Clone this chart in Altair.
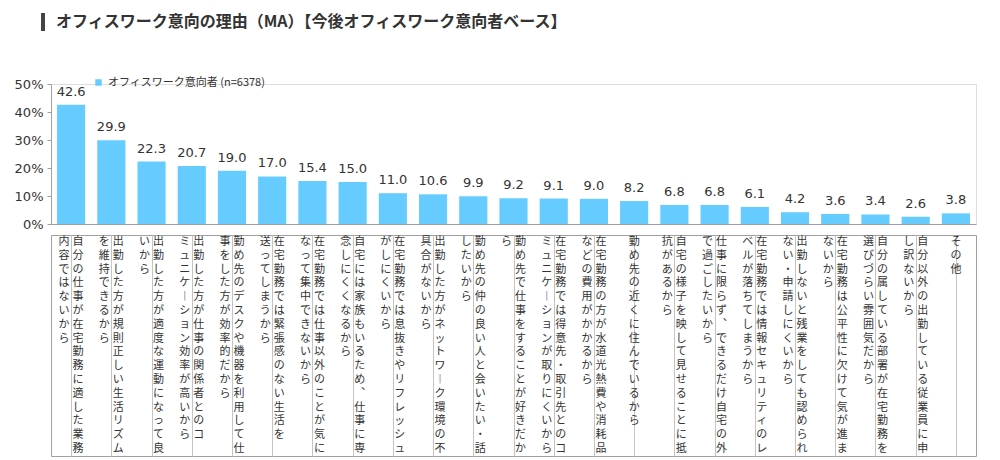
import altair as alt
import pandas as pd

TITLE = "オフィスワーク意向の理由（MA）【今後オフィスワーク意向者ベース】"
SERIES = "オフィスワーク意向者 (n=6378)"

# Category labels, written as vertical columns (right column first, then left)
label_columns = [
    ["自分の仕事が在宅勤務に適した業務", "内容ではないから"],
    ["出勤した方が規則正しい生活リズム", "を維持できるから"],
    ["出勤した方が適度な運動になって良", "いから"],
    ["出勤した方が仕事の関係者とのコ", "ミュニケーション効率が高いから"],
    ["勤め先のデスクや機器を利用して仕", "事をした方が効率的だから"],
    ["在宅勤務では緊張感のない生活を", "送ってしまうから"],
    ["在宅勤務では仕事以外のことが気に", "なって集中できないから"],
    ["自宅には家族もいるため、仕事に専", "念しにくくなるから"],
    ["在宅勤務では息抜きやリフレッシュ", "がしにくいから"],
    ["出勤した方がネットワーク環境の不", "具合がないから"],
    ["勤め先の仲の良い人と会いたい・話", "したいから"],
    ["勤め先で仕事をすることが好きだか", "ら"],
    ["在宅勤務では得意先・取引先とのコ", "ミュニケーションが取りにくいから"],
    ["在宅勤務の方が水道光熱費や消耗品", "などの費用がかかるから"],
    ["勤め先の近くに住んでいるから"],
    ["自宅の様子を映して見せることに抵", "抗があるから"],
    ["仕事に限らず、できるだけ自宅の外", "で過ごしたいから"],
    ["在宅勤務では情報セキュリティのレ", "ベルが落ちてしまうから"],
    ["出勤しないと残業をしても認められ", "ない・申請しにくいから"],
    ["在宅勤務は公平性に欠けて気が進ま", "ないから"],
    ["自分の属している部署が在宅勤務を", "選びづらい雰囲気だから"],
    ["自分以外の出勤している従業員に申", "し訳ないから"],
    ["その他"],
]
values = [42.6, 29.9, 22.3, 20.7, 19.0, 17.0, 15.4, 15.0, 11.0, 10.6, 9.9, 9.2,
          9.1, 9.0, 8.2, 6.8, 6.8, 6.1, 4.2, 3.6, 3.4, 2.6, 3.8]
y_ticks = [0, 10, 20, 30, 40, 50]

categories = ["".join(c) for c in label_columns]

bars_df = pd.DataFrame({"cat": categories, "value": values, "series": SERIES})

# vertical glyph forms for characters that rotate in vertical writing
vert = {"ー": "︱", "、": "︑"}
rows = []
for cat, cols in zip(categories, label_columns):
    positions = ["C"] if len(cols) == 1 else ["R", "L"]
    for pos, col in zip(positions, cols):
        for j, ch in enumerate(col):
            rows.append({"cat": cat, "row": j, "ch": vert.get(ch, ch), "pos": pos})
chars_df = pd.DataFrame(rows)

BLUE = "#66CCFF"
JP = "Noto Sans CJK JP"
NUM = "DejaVu Sans"
W = 925

x_top = alt.X("cat:N", sort=categories, title=None,
              scale=alt.Scale(paddingInner=0.3, paddingOuter=0.15),
              axis=alt.Axis(labels=False, ticks=False, grid=False,
                            domainColor="#a0a0a0"))
y_top = alt.Y("value:Q", title=None,
              scale=alt.Scale(domain=[0, 50], nice=False),
              axis=alt.Axis(values=y_ticks, labelExpr="datum.value + '%'",
                            grid=False, tickSize=4, tickColor="#a0a0a0",
                            domainColor="#a0a0a0", labelFont=NUM,
                            labelFontSize=13, labelColor="#333333",
                            labelPadding=4, labelOverlap=False))

bars = alt.Chart(bars_df).mark_bar(color=BLUE).encode(
    x=x_top,
    y=y_top,
    color=alt.Color("series:N", scale=alt.Scale(range=[BLUE]),
                    legend=alt.Legend(orient="none", legendX=42, legendY=-7,
                                      title=None, symbolType="square",
                                      symbolSize=42, symbolStrokeWidth=0,
                                      labelFont=JP, labelFontSize=11,
                                      labelColor="#333333", padding=0)),
)

labels = alt.Chart(bars_df).mark_text(
    baseline="bottom", dy=-6, font=NUM, fontSize=13, color="#333333"
).encode(
    x=x_top,
    y=y_top,
    text=alt.Text("value:Q", format=".1f"),
)

title_bar = alt.Chart(bars_df.head(1)).mark_rule(
    color="#444444", strokeWidth=4
).encode(x=alt.value(-8), y=alt.value(-71), y2=alt.value(-53))

title_text = alt.Chart(bars_df.head(1)).mark_text(
    align="left", baseline="middle", font=JP, fontSize=16,
    fontWeight="bold", color="#333333"
).encode(x=alt.value(5), y=alt.value(-62), text=alt.value(TITLE))

top = alt.layer(bars, labels, title_bar, title_text).properties(width=W, height=140)

x_bot = alt.X("cat:N", sort=categories, title=None,
              scale=alt.Scale(paddingInner=0, paddingOuter=0),
              axis=alt.Axis(orient="top", labels=False, ticks=False,
                            domain=False, grid=True, bandPosition=0,
                            gridColor="#c4c4c4", gridWidth=1))
y_bot = alt.Y("row:O", axis=None,
              scale=alt.Scale(type="point", domain=list(range(16)), padding=0.5))

layers = []
for pos, dx in [("R", 7), ("L", -7), ("C", 0)]:
    layers.append(
        alt.Chart(chars_df).transform_filter(alt.datum.pos == pos)
        .mark_text(font=JP, fontSize=11, color="#333333", baseline="middle", dx=dx)
        .encode(x=x_bot, y=y_bot, text="ch:N")
    )

bottom = alt.layer(*layers).properties(
    width=W, height=221,
    view=alt.ViewBackground(stroke="#a0a0a0", strokeWidth=1),
)

chart = alt.vconcat(top, bottom, spacing=2).properties(
    padding={"top": 2, "left": 5, "right": 5, "bottom": 2},
).configure_view(stroke="transparent").configure(background="white")

chart.save("out.html", embed_options={"renderer": "svg", "actions": False})
